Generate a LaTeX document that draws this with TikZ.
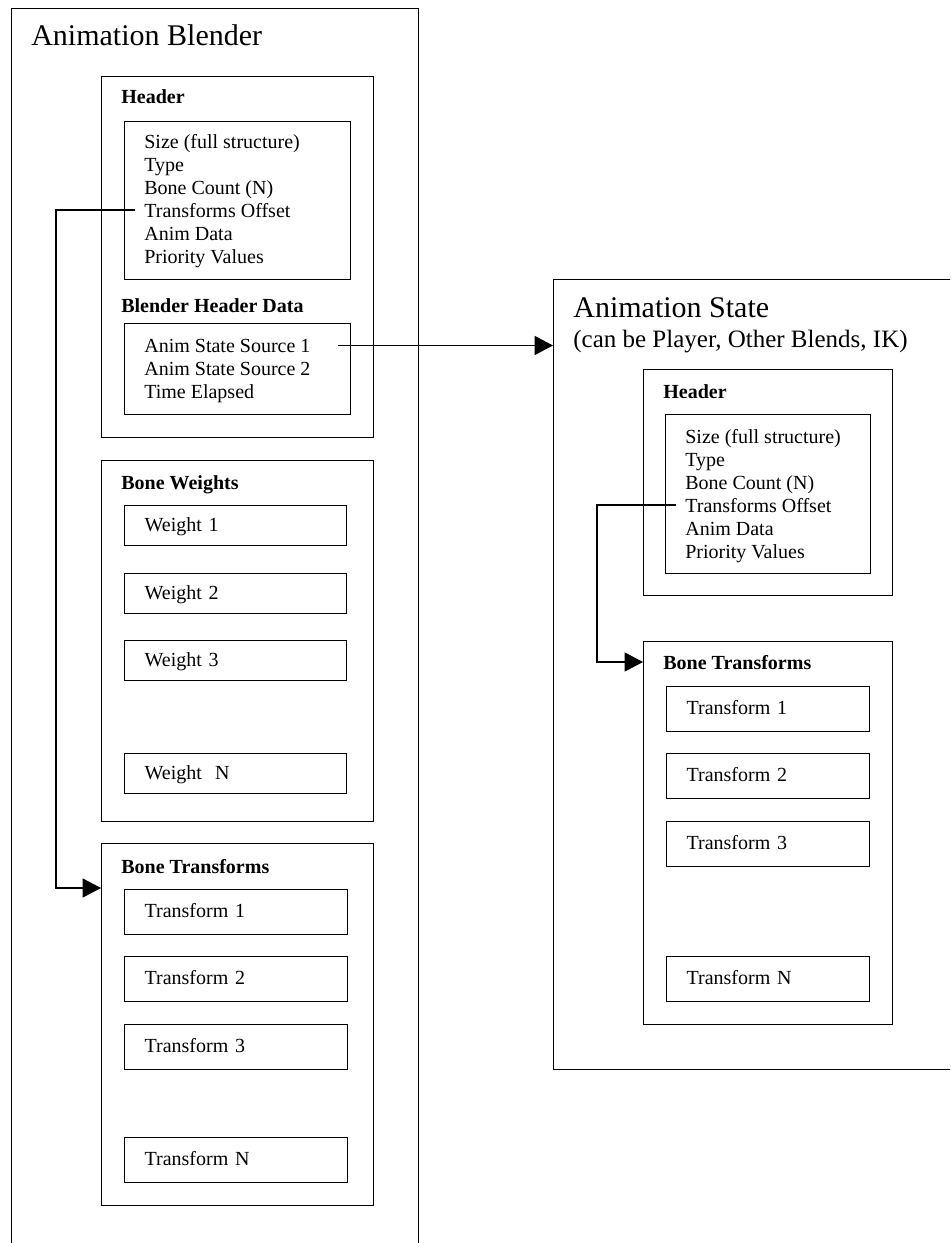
\documentclass[tikz,border=0pt]{standalone}
\usepackage{fontspec}
\setmainfont{Liberation Serif}
\usetikzlibrary{arrows.meta, positioning}

\begin{document}
\begin{tikzpicture}[
    x=0.6pt, y=-0.6pt,
    every node/.style={font=\fontsize{12}{14}\selectfont},
    frame/.style={draw, line width=0.75pt, anchor=north west, inner sep=0pt},
    heading/.style={anchor=base west, inner sep=0pt, font=\fontsize{12}{14}\selectfont\bfseries},
    bigtitle/.style={anchor=base west, inner sep=0pt, font=\fontsize{18}{21}\selectfont},
    subtitle/.style={anchor=base west, inner sep=0pt, font=\fontsize{15}{18}\selectfont},
    item/.style={anchor=base west, inner sep=0pt},
    slot/.style={draw, line width=0.75pt, anchor=north west, inner xsep=12pt, inner ysep=0pt, align=left, text height=9pt, text depth=2pt},
    wslot/.style={slot, text width=109.2pt, minimum height=24pt},
    tslot/.style={slot, text width=109.8pt, minimum height=27pt},
    link/.style={-{Triangle[length=11pt, width=11.4pt]}, line width=0.75pt}
]
    \useasboundingbox (0,0) rectangle (950,1243);
    \clip (0,0) rectangle (950,1243);

    % Animation Blender
    \node[frame, minimum width=244.2pt, minimum height=800pt] (blender) at (11,8) {};
    \node[bigtitle] (blendertitle) at (31,46) {Animation Blender};

    \node[frame, minimum width=163.2pt, minimum height=216.6pt] (hdr) at (101,76) {};
    \node[heading] (hdrtitle) at (121,104) {Header};
    \node[frame, minimum width=135.6pt, minimum height=94.8pt] (hdrbox) at (124,121) {};
    \foreach \t [count=\i] in {Size (full structure), Type, Bone Count (N), Transforms Offset, Anim Data, Priority Values}
        \node[item] (hb\i) at (144,{148+23*(\i-1)}) {\t};

    \node[heading] (bhdtitle) at (121,312) {Blender Header Data};
    \node[frame, minimum width=135.6pt, minimum height=54.6pt] (bhdbox) at (124,323) {};
    \foreach \t [count=\i] in {Anim State Source 1, Anim State Source 2, Time Elapsed}
        \node[item] (src\i) at (144,{352+23*(\i-1)}) {\t};

    \node[frame, minimum width=163.2pt, minimum height=216.6pt] (bw) at (101,460) {};
    \node[heading] (bwtitle) at (121,489) {Bone Weights};
    \foreach \t/\y [count=\i] in {Weight 1/505, Weight 2/573, Weight 3/640, Weight\ \ N/753}
        \node[wslot] (w\i) at (124,\y) {\t};

    \node[frame, minimum width=163.2pt, minimum height=217.2pt] (bt) at (101,843) {};
    \node[heading] (bttitle) at (121,873) {Bone Transforms};
    \foreach \t/\y [count=\i] in {1/889, 2/956, 3/1024, N/1137}
        \node[tslot] (t\i) at (124,\y) {Transform \t};

    % Animation State
    \node[frame, minimum width=300pt, minimum height=474pt] (state) at (553,279) {};
    \node[bigtitle] (statetitle) at (573,317) {Animation State};
    \node[subtitle] (statesub) at (573,347) {(can be Player, Other Blends, IK)};

    \node[frame, minimum width=149.4pt, minimum height=135.6pt] (shdr) at (643,369) {};
    \node[heading] (shdrtitle) at (663,398) {Header};
    \node[frame, minimum width=123pt, minimum height=95.4pt] (shdrbox) at (665,414) {};
    \foreach \t [count=\i] in {Size (full structure), Type, Bone Count (N), Transforms Offset, Anim Data, Priority Values}
        \node[item] (hs\i) at (685,{443+23*(\i-1)}) {\t};

    \node[frame, minimum width=149.4pt, minimum height=229.8pt] (sbt) at (643,641) {};
    \node[heading] (sbttitle) at (663,669) {Bone Transforms};
    \foreach \t/\y [count=\i] in {1/686, 2/753, 3/821, N/956}
        \node[tslot, text width=97.8pt] (st\i) at (666,\y) {Transform \t};

    \draw[link] ([xshift=-5.4pt]hb4.west) -- ++(-79,0) |- ([yshift=-27pt]bt.north west);
    \draw[link] ([xshift=16.2pt]src1.east) -- (src1.east -| state.west);
    \draw[link] ([xshift=-5.4pt]hs4.west) -- ++(-79,0) |- ([yshift=-12.6pt]sbt.north west);
\end{tikzpicture}
\end{document}
